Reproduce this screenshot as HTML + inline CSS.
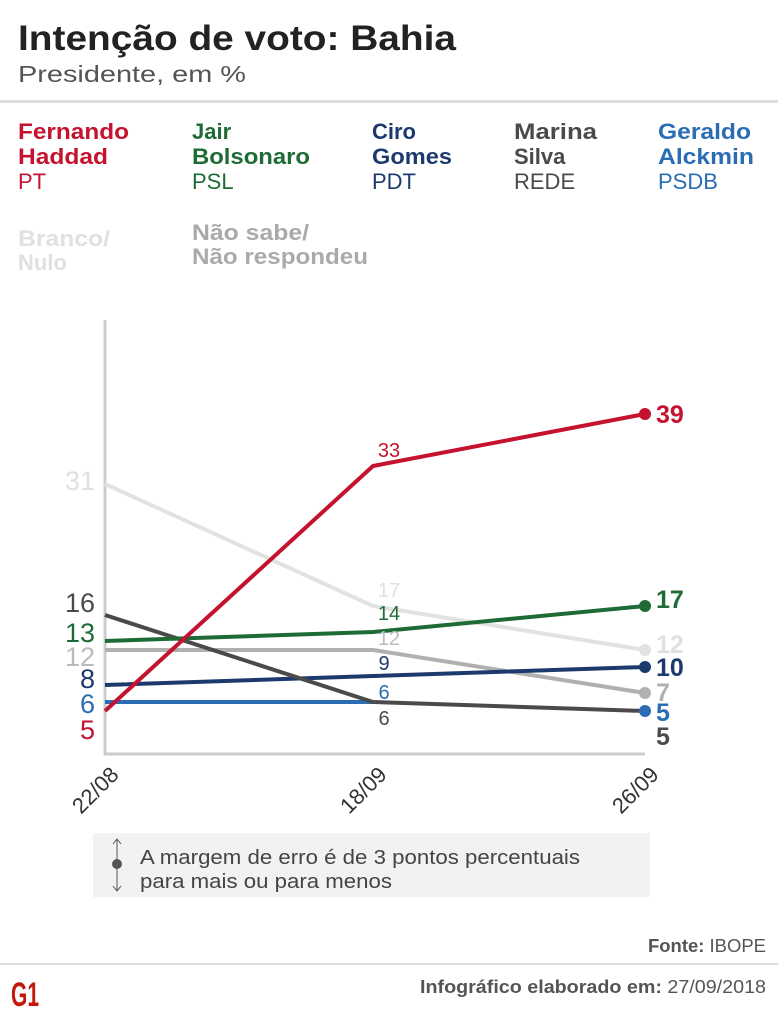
<!DOCTYPE html>
<html><head><meta charset="utf-8"><style>
html,body{margin:0;padding:0;background:#fff;}
svg{display:block;font-family:"Liberation Sans",sans-serif;}
</style></head><body>
<svg width="778" height="1024" viewBox="0 0 778 1024" xmlns="http://www.w3.org/2000/svg">
<text x="18" y="50" font-size="35" font-weight="bold" fill="#222" textLength="438" lengthAdjust="spacingAndGlyphs">Intenção de voto: Bahia</text>
<text x="18" y="82" font-size="23" fill="#555" textLength="228" lengthAdjust="spacingAndGlyphs">Presidente, em %</text>
<rect x="0" y="100" width="778" height="3" fill="#ddd"/>
<g font-size="22" font-weight="bold">
<text x="18" y="139" fill="#c4122f" textLength="111" lengthAdjust="spacingAndGlyphs">Fernando</text><text x="18" y="164" fill="#c4122f" textLength="90" lengthAdjust="spacingAndGlyphs">Haddad</text>
<text x="18" y="189" fill="#c4122f" font-weight="normal">PT</text>
<text x="192" y="139" fill="#1e6b35">Jair</text><text x="192" y="164" fill="#1e6b35" textLength="118" lengthAdjust="spacingAndGlyphs">Bolsonaro</text>
<text x="192" y="189" fill="#1e6b35" font-weight="normal">PSL</text>
<text x="372" y="139" fill="#1d3a6e">Ciro</text><text x="372" y="164" fill="#1d3a6e" textLength="80" lengthAdjust="spacingAndGlyphs">Gomes</text>
<text x="372" y="189" fill="#1d3a6e" font-weight="normal">PDT</text>
<text x="514" y="139" fill="#4a4a4a" textLength="83" lengthAdjust="spacingAndGlyphs">Marina</text><text x="514" y="164" fill="#4a4a4a">Silva</text>
<text x="514" y="189" fill="#4a4a4a" font-weight="normal">REDE</text>
<text x="658" y="139" fill="#2a6db5" textLength="93" lengthAdjust="spacingAndGlyphs">Geraldo</text><text x="658" y="164" fill="#2a6db5" textLength="96" lengthAdjust="spacingAndGlyphs">Alckmin</text>
<text x="658" y="189" fill="#2a6db5" font-weight="normal">PSDB</text>
<text x="18" y="246" fill="#e0e0e0" textLength="92" lengthAdjust="spacingAndGlyphs">Branco/</text><text x="18" y="270" fill="#e0e0e0">Nulo</text>
<text x="192" y="240" fill="#aaa" textLength="117" lengthAdjust="spacingAndGlyphs">Não sabe/</text><text x="192" y="264" fill="#aaa" textLength="176" lengthAdjust="spacingAndGlyphs">Não respondeu</text>
</g>
<path d="M105 320 V754 H645" fill="none" stroke="#ccc" stroke-width="3"/>
<g fill="none" stroke-width="4" stroke-linejoin="round">
<polyline points="105,484 373,606 645,650" stroke="#e2e2e2"/>
<polyline points="105,650 373,650 645,693" stroke="#b0b0b0"/>
<polyline points="105,702 373,702" stroke="#2a6db5"/>
<polyline points="105,685 373,676 645,667" stroke="#1d3a6e"/>
<polyline points="105,615 373,702 645,711" stroke="#4a4a4a"/>
<polyline points="105,641 373,632 645,606" stroke="#1e6b35"/>
<polyline points="105,711 373,466 645,414" stroke="#c4122f"/>
</g>
<g>
<circle cx="645" cy="414" r="6" fill="#c4122f"/>
<circle cx="645" cy="606" r="6" fill="#1e6b35"/>
<circle cx="645" cy="650" r="6" fill="#e2e2e2"/>
<circle cx="645" cy="667" r="6" fill="#1d3a6e"/>
<circle cx="645" cy="693" r="6" fill="#b0b0b0"/>
<circle cx="645" cy="711" r="6" fill="#2a6db5"/>
</g>
<g font-size="27" text-anchor="end">
<text x="95" y="490" fill="#e0e0e0">31</text>
<text x="95" y="612" fill="#4a4a4a">16</text>
<text x="95" y="642" fill="#1e6b35">13</text>
<text x="95" y="666" fill="#bbb">12</text>
<text x="95" y="688" fill="#1d3a6e">8</text>
<text x="95" y="713" fill="#2a6db5">6</text>
<text x="95" y="739" fill="#c4122f">5</text>
</g>
<g font-size="20" text-anchor="middle">
<text x="389" y="457" fill="#c4122f">33</text>
<text x="389" y="597" fill="#e0e0e0">17</text>
<text x="389" y="620" fill="#1e6b35">14</text>
<text x="389" y="645" fill="#bbb">12</text>
<text x="384" y="670" fill="#1d3a6e">9</text>
<text x="384" y="699" fill="#2a6db5">6</text>
<text x="384" y="725" fill="#4a4a4a">6</text>
</g>
<g font-size="25" font-weight="bold">
<text x="656" y="423" fill="#c4122f">39</text>
<text x="656" y="608" fill="#1e6b35">17</text>
<text x="656" y="653" fill="#e0e0e0">12</text>
<text x="656" y="676" fill="#1d3a6e">10</text>
<text x="656" y="701" fill="#b0b0b0">7</text>
<text x="656" y="721" fill="#2a6db5">5</text>
<text x="656" y="745" fill="#4a4a4a">5</text>
</g>
<g font-size="22" fill="#333">
<text transform="translate(120,776) rotate(-45)" text-anchor="end">22/08</text>
<text transform="translate(388,776) rotate(-45)" text-anchor="end">18/09</text>
<text transform="translate(660,776) rotate(-45)" text-anchor="end">26/09</text>
</g>
<rect x="93" y="833" width="557" height="64" fill="#f2f2f2"/>
<line x1="117" y1="840" x2="117" y2="890" stroke="#555" stroke-width="1"/>
<path d="M113 844 L117 839 L121 844 M113 886 L117 891 L121 886" fill="none" stroke="#555"/>
<circle cx="117" cy="864" r="5" fill="#555"/>
<text x="140" y="864" font-size="20" fill="#444" textLength="440" lengthAdjust="spacingAndGlyphs">A margem de erro é de 3 pontos percentuais</text>
<text x="140" y="888" font-size="20" fill="#444" textLength="252" lengthAdjust="spacingAndGlyphs">para mais ou para menos</text>
<text x="766" y="952" font-size="18" fill="#555" text-anchor="end" textLength="118" lengthAdjust="spacingAndGlyphs"><tspan font-weight="bold">Fonte:</tspan> IBOPE</text>
<rect x="0" y="963" width="778" height="2" fill="#ddd"/>
<text x="766" y="993" font-size="18" fill="#555" text-anchor="end" textLength="346" lengthAdjust="spacingAndGlyphs"><tspan font-weight="bold">Infográfico elaborado em:</tspan> 27/09/2018</text>
<text x="11" y="1006" font-size="34" font-weight="bold" fill="#c4170c" textLength="28" lengthAdjust="spacingAndGlyphs">G1</text>
</svg>
</body></html>
